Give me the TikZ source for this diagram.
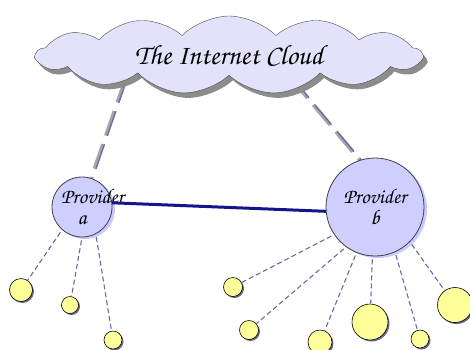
\documentclass[tikz,border=0pt]{standalone}
\usepackage[T1]{fontenc}
\usepackage{tikz}
\usetikzlibrary{shapes.symbols,shadows,backgrounds}

\definecolor{cloudfill}{RGB}{226,226,250}
\definecolor{provfill}{RGB}{206,206,255}
\definecolor{leaffill}{RGB}{255,255,153}
\definecolor{linkblue}{RGB}{20,20,140}
\definecolor{dashblue}{RGB}{105,105,170}

\tikzset{
  hand/.style 2 args={font=\fontsize{#1}{#2}\fontfamily{pzc}\selectfont},
  provider/.style={circle, draw=black!75, thick, fill=provfill, align=center, inner sep=0pt,
    hand={21}{21}, drop shadow={shadow xshift=3pt, shadow yshift=-2pt, fill=provfill!80!blue, opacity=.6}},
  leaf/.style={circle, draw=black, semithick, fill=leaffill, inner sep=0pt,
    drop shadow={shadow xshift=1.5pt, shadow yshift=-1.5pt, fill=blue!30!black, opacity=.6}},
  uplink/.style={line width=4pt, gray!70, dash pattern=on 26pt off 9pt,
    postaction={draw=dashblue, line width=1.2pt, dash pattern=on 26pt off 9pt,
      transform canvas={xshift=1.3pt}}},
  leafline/.style={dashblue, line width=1.1pt, dash pattern=on 5pt off 3pt, shorten <=3pt}
}

\begin{document}
\begin{tikzpicture}[x=1pt,y=-1pt]
\useasboundingbox (0,0) rectangle (470,349);

% the cloud on top
\node[cloud, cloud puffs=13, cloud puff arc=90, cloud ignores aspect,
  minimum width=385pt, minimum height=78pt, draw=black!70, fill=cloudfill, hand={28}{30},
  drop shadow={shadow xshift=4pt, shadow yshift=-5pt, fill=black!45, opacity=1}]
  (cloud) at (229,55) {The Internet Cloud};
\coordinate (cl) at (126,78);
\coordinate (cr) at (291,78);

% the two providers
\node[provider, minimum size=60pt, text width=42pt] (pa) at (82,207) {Provider\\a};
\node[provider, minimum size=98pt, text width=80pt] (pb) at (375,207) {Provider\\b};

% links up to the cloud
\begin{scope}[on background layer]
  \draw[uplink] (cl) -- (pa.72);
  \draw[uplink] (cr) -- (pb.108);
\end{scope}

% link between providers
\draw[linkblue, line width=3pt] (pa.8) -- (pb.185);

% the customers
\foreach \n/\x/\y/\d in {la1/21/290/23, la2/70/305/17, la3/113/340/18,
  lb1/233/287/19, lb2/249/330/19, lb3/320/342/24, lb4/370/322/36,
  lb5/420/339/18, lb6/455/305/35}
  \node[leaf, minimum size=\d pt] (\n) at (\x,\y) {};

% dashed lines to the customers
\foreach \n/\a in {la1/-131, la2/-90, la3/-63}
  \draw[leafline] (pa.\a) -- (\n);
\foreach \n/\a in {lb1/-146, lb2/-126, lb3/-112, lb4/-93, lb5/-66, lb6/-45}
  \draw[leafline] (pb.\a) -- (\n);

\end{tikzpicture}
\end{document}
